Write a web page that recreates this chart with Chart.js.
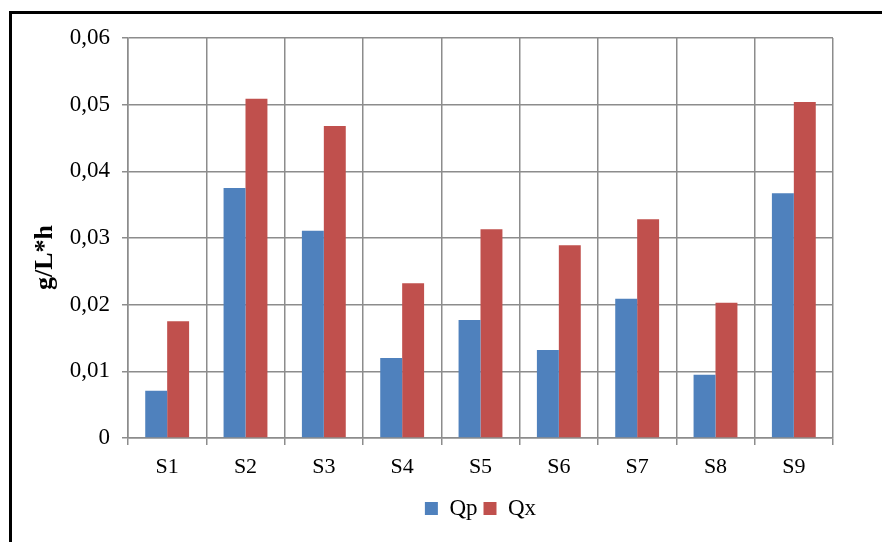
<!DOCTYPE html>
<html>
<head>
<meta charset="utf-8">
<script src="https://cdn.jsdelivr.net/npm/chart.js@4"></script>
<style>
  body { margin: 0; background: #fff; overflow: hidden; }
  #frame { position: absolute; left: 9px; top: 11px; width: 900px; height: 600px; border: 3px solid #000; }
  #wrap { position: absolute; left: 0; top: 0; width: 882px; height: 542px; }
</style>
</head>
<body>
<div id="frame"></div>
<div id="wrap"><canvas id="chart" width="882" height="542"></canvas></div>
<script>
const categories = ["S1", "S2", "S3", "S4", "S5", "S6", "S7", "S8", "S9"];
const qp = [0.0071, 0.0375, 0.0311, 0.0120, 0.0177, 0.0132, 0.0209, 0.0095, 0.0367];
const qx = [0.0175, 0.0509, 0.0468, 0.0232, 0.0313, 0.0289, 0.0328, 0.0203, 0.0504];

const serif = "'Liberation Serif', 'Times New Roman', serif";
const gridColor = "#8c8c8c";

// center the legend under the plot area instead of the whole canvas
const legendUnderPlot = {
    id: "legendUnderPlot",
    afterLayout(chart) {
        const lg = chart.legend;
        const a = chart.chartArea;
        const shift = (a.left + a.right) / 2 - (lg.left + lg.right) / 2;
        lg.left += shift;
        lg.right += shift;
    }
};

new Chart(document.getElementById("chart").getContext("2d"), {
    type: "bar",
    data: {
        labels: categories,
        datasets: [
            { label: "Qp", data: qp, backgroundColor: "#4f81bd" },
            { label: "Qx", data: qx, backgroundColor: "#c0504d" }
        ]
    },
    plugins: [legendUnderPlot],
    options: {
        responsive: false,
        animation: false,
        layout: { padding: { left: 30, right: 49, top: 38, bottom: 12 } },
        datasets: { bar: { categoryPercentage: 0.56, barPercentage: 1 } },
        plugins: {
            tooltip: { enabled: false },
            legend: {
                position: "bottom",
                labels: {
                    font: { family: serif, size: 23 },
                    color: "#000",
                    boxWidth: 13,
                    boxHeight: 13,
                    padding: 6
                }
            }
        },
        scales: {
            x: {
                offset: true,
                grid: { offset: true, color: gridColor, lineWidth: 1.5, tickLength: 7 },
                border: { color: gridColor, width: 1.5 },
                ticks: { font: { family: serif, size: 22 }, color: "#000", padding: 9 },
                afterFit: s => { s.height = 53; }
            },
            y: {
                min: 0,
                max: 0.06,
                grid: { color: gridColor, lineWidth: 1.5, tickLength: 6 },
                border: { color: gridColor, width: 1.5 },
                ticks: {
                    stepSize: 0.01,
                    font: { family: serif, size: 23 },
                    color: "#000",
                    padding: 12,
                    callback: v => v === 0 ? "0" : v.toFixed(2).replace(".", ",")
                },
                title: {
                    display: true,
                    // trailing spaces push the rotated title a bit lower, as in the original
                    text: "g/L*h\u00a0\u00a0\u00a0\u00a0\u00a0\u00a0",
                    font: { family: serif, size: 26, weight: "bold" },
                    color: "#000",
                    padding: 0
                },
                afterFit: s => { s.width = 98; }
            }
        }
    }
});
</script>
</body>
</html>
